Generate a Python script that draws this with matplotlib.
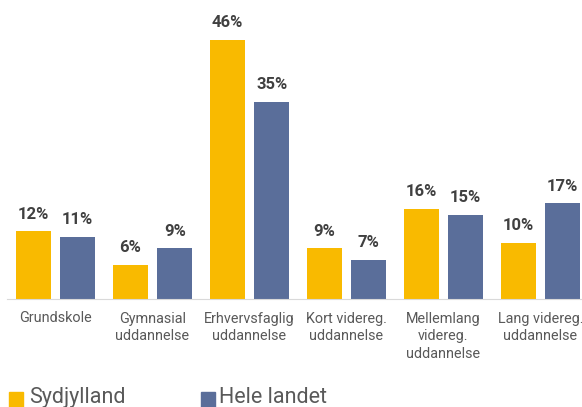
import matplotlib
matplotlib.use("Agg")
import matplotlib.pyplot as plt
import numpy as np
from matplotlib.patches import Rectangle

plt.rcParams["font.family"] = ["Roboto", "DejaVu Sans"]

categories = ["Grundskole", "Gymnasial\nuddannelse", "Erhvervsfaglig\nuddannelse",
              "Kort videreg.\nuddannelse", "Mellemlang\nvidereg.\nuddannelse",
              "Lang videreg.\nuddannelse"]
sydjylland = [12, 6, 46, 9, 16, 10]
hele_landet = [11, 9, 35, 7, 15, 17]
series_names = ["Sydjylland", "Hele landet"]
colors = ["#F9BA00", "#5A6E9A"]

W, H = 582, 407
x = np.arange(len(categories))
w = 0.36
off = 0.23

fig = plt.figure(figsize=(W / 100, H / 100), dpi=100)
ax = fig.add_axes([0.012, 1 - 299 / H, 0.995, 259 / H])

for vals, dx, c in zip([sydjylland, hele_landet], [-off, off], colors):
    bars = ax.bar(x + dx, vals, w, color=c, edgecolor="none")
    for b, v in zip(bars, vals):
        ax.annotate(f"{v}%", (b.get_x() + b.get_width() / 2, v),
                    xytext=(0, 7), textcoords="offset points",
                    ha="center", va="bottom", fontsize=12,
                    fontweight="bold", color="#404040")

ax.set_xlim(-0.5, 5.47)
ax.set_ylim(0, 46)
ax.set_xticks(x)
ax.set_xticklabels(categories, fontsize=10.4, color="#595959", linespacing=1.35)
ax.tick_params(axis="x", length=0, pad=9)
# keep the last label inside the figure
ax.get_xticklabels()[-1].set_x(x[-1] - 0.04)
ax.set_yticks([])
for s in ["top", "right", "left"]:
    ax.spines[s].set_visible(False)
ax.spines["bottom"].set_color("#D9D9D9")

# legend drawn by hand at the bottom edge
for (px, tx), c, n in zip([(9, 29), (201, 219)], colors, series_names):
    fig.patches.append(Rectangle((px / W, 0), 14 / W, 15 / H, color=c,
                                 transform=fig.transFigure))
    fig.text(tx / W, 4 / H, n, fontsize=15.5, color="#595959",
             ha="left", va="baseline")

fig.savefig("out.png", dpi=100)
